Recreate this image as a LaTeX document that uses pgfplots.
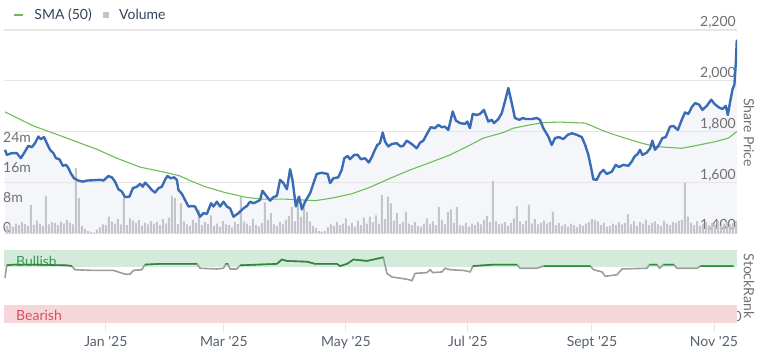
\documentclass[border=0pt]{standalone}
\usepackage{pgfplots}
\pgfplotsset{compat=1.18}
\usepackage{pgfplotstable}
\usepackage{fontspec}
\setmainfont{Lato}

\definecolor{priceblue}{HTML}{3A6CB4}
\definecolor{smagreen}{HTML}{6DBE5A}
\definecolor{volgray}{HTML}{C3C5CB}
\definecolor{areafill}{HTML}{F4F6FA}
\definecolor{gridgray}{HTML}{E6E6E6}
\definecolor{tickgray}{HTML}{707070}
\definecolor{xtickgray}{HTML}{56606E}
\definecolor{bullband}{HTML}{D4EADB}
\definecolor{bearband}{HTML}{F6D6D9}
\definecolor{rankgreen}{HTML}{2A8A3A}
\definecolor{rankgray}{HTML}{9C9C9C}
\definecolor{bulltext}{HTML}{3A9A4E}
\definecolor{beartext}{HTML}{D9505C}
\definecolor{legtext}{HTML}{34425A}

\pgfplotstableread{
day price
-50.4 1729
-49.5 1709
-47 1716
-44.5 1716
-42.5 1696
-40.9 1716
-38.7 1745
-37 1739
-35.4 1755
-33.7 1781
-32.5 1771
-30.9 1779
-29.5 1755
-27.9 1729
-26.2 1716
-24.9 1696
-23.2 1692
-21.5 1666
-19.9 1670
-18.7 1657
-17.5 1637
-15.9 1617
-13.7 1608
-11.5 1604
-9.5 1608
-2.9 1611
-1.2 1608
1.3 1626
3 1621
4.6 1604
6.3 1574
8 1565
9.6 1543
11.8 1545
13.5 1578
15.5 1584
17.1 1595
18.5 1584
19.6 1600
21.3 1587
23 1571
24.6 1561
26.3 1578
28 1584
29.6 1611
30.8 1626
32.5 1617
34.1 1621
35.5 1611
36.3 1571
38 1556
39.6 1532
41.3 1506
43 1508
44.6 1506
47.1 1466
48.8 1480
50.5 1477
52.6 1519
53.8 1506
55.5 1525
57.1 1506
58.8 1525
60.5 1506
62.1 1499
63.8 1466
66.3 1480
68.8 1499
70.5 1508
72.1 1525
73.8 1519
75.5 1525
77.1 1532
78.3 1568
80.5 1545
82.1 1529
83.8 1543
85.5 1548
87.1 1611
88.8 1598
90.5 1574
92.1 1653
93.3 1611
95 1506
96.6 1545
98 1495
99.6 1525
102.1 1558
103.8 1598
105.4 1634
107.9 1639
110.9 1634
112.1 1598
113.7 1617
116.2 1621
117.9 1650
119.2 1696
120.9 1705
122 1692
124.2 1709
125.9 1709
127.5 1692
129.5 1696
131.5 1679
133.2 1705
134.5 1729
135.7 1748
137 1755
138.4 1797
139.6 1761
141.2 1742
142.9 1752
145.4 1755
147.4 1742
148.7 1745
150.4 1765
152.9 1752
155.4 1735
157.1 1757
158.7 1765
160.7 1794
162.4 1818
164.5 1814
166.2 1827
167.9 1818
169.5 1820
171.2 1807
173.4 1880
175 1844
177 1834
179.5 1831
180.7 1840
182 1814
183.4 1870
185.4 1866
187 1870
189 1886
191.2 1840
192.9 1847
194 1834
196.2 1850
197.9 1873
199.5 1919
201.2 1972
202.9 1913
204.5 1854
206.7 1847
208.4 1854
210 1850
212.9 1850
215.4 1854
217 1847
218.7 1814
221.2 1781
222.9 1748
224.5 1775
226.5 1779
228.7 1771
230.9 1788
232.9 1794
235.4 1788
237.9 1779
239.6 1748
241.2 1709
242.6 1657
243.7 1613
245.4 1611
247 1637
248.7 1650
250.4 1634
252.9 1643
254.9 1670
256.5 1661
258.7 1670
261.2 1666
262.9 1683
264.2 1702
265.9 1713
267 1729
268.2 1709
270.4 1718
272.1 1735
273.2 1765
274.5 1729
276.2 1745
278.2 1775
279.9 1779
282 1820
283.7 1823
285.9 1807
287.9 1847
289.5 1876
291.2 1870
292.9 1897
294.6 1913
296.6 1906
298.2 1886
300.4 1902
302.6 1926
304.2 1910
306.2 1897
308.2 1889
309.9 1902
310.9 1866
312.1 1919
313.2 1965
314.2 1985
314.9 2070
315.4 2162
}\pricetable

\pgfplotstableread{
day sma
-50.4 1878
-36.2 1823
-19.5 1775
-4.5 1731
5.5 1696
17.1 1661
30.5 1639
37.1 1626
42.1 1608
49.6 1584
59.6 1561
69.6 1543
78 1535
89.6 1535
98 1532
104.6 1529
112.9 1539
122.9 1556
132.1 1582
142.1 1617
152.1 1650
162.1 1679
172.1 1709
182.1 1748
188.7 1775
198.7 1797
203.7 1814
212 1827
218.7 1836
227 1838
239.5 1834
242.9 1823
249.5 1801
257.9 1779
267.9 1755
274.5 1742
287.9 1735
294.6 1745
304.6 1761
311.2 1775
315.4 1801
}\smatable

\pgfplotstableread{
day vol
-49.5 2.0
-48 2.4
-46.5 1.8
-45 2.6
-43.5 2.2
-42 3.0
-40.5 2.5
-39 2.0
-37.5 7.6
-36 2.3
-34.5 3.4
-33 2.6
-31.5 2.0
-30 10.0
-28.5 2.4
-27 3.0
-25.5 2.8
-24 2.2
-22.5 3.1
-21 2.6
-19.5 3.6
-18 2.9
-16.5 2.4
-15 17.4
-13.5 9.4
-12 2.0
-10.5 1.2
-9 0.6
-7.5 0.4
-6 0.3
-4.5 1.0
-3 1.6
-1.5 2.4
0 2.2
1.5 4.5
3 3.2
4.5 2.6
6 3.8
7.5 2.4
9 9.4
10.5 2.2
12 4.0
13.5 3.4
15 2.8
16.5 3.6
18 2.1
19.5 2.9
21 2.4
22.5 3.3
24 2.6
25.5 3.0
27 2.2
28.5 3.8
30 2.7
31.5 4.2
33 10.0
34.5 9.4
36 2.5
37.5 8.0
39 3.2
40.5 2.4
42 2.0
43.5 3.6
45 2.8
46.5 6.3
48 2.2
49.5 3.0
51 2.5
52.5 4.8
54 2.0
55.5 2.6
57 1.8
58.5 3.3
60 2.4
61.5 2.2
63 1.6
64.5 3.0
66 2.5
67.5 9.8
69 3.2
70.5 2.6
72 2.0
73.5 3.8
75 2.2
76.5 1.8
78 2.8
79.5 8.3
81 3.6
82.5 5.4
84 2.4
85.5 2.0
87 3.0
88.5 2.4
90 3.6
91.5 4.6
93 7.1
94.5 3.2
96 9.8
97.5 4.4
99 7.0
100.5 5.8
102 3.2
103.5 2.0
105 1.4
106.5 0.6
108 0.5
109.5 0.7
111 1.6
112.5 2.4
114 2.0
115.5 3.0
117 2.2
118.5 2.6
120 4.0
121.5 2.0
123 2.8
124.5 1.8
126 3.4
127.5 2.2
129 4.2
130.5 2.6
132 4.5
133.5 3.0
135 4.8
136.5 2.6
138 10.3
139.5 3.8
141 9.8
142.5 8.0
144 3.4
145.5 5.5
147 2.4
148.5 3.0
150 5.8
151.5 2.6
153 2.2
154.5 3.0
156 2.0
157.5 1.8
159 2.6
160.5 4.0
162 2.4
163.5 3.2
165 2.2
166.5 7.1
168 3.6
169.5 2.4
171 5.7
172.5 6.4
174 2.8
175.5 7.1
177 2.2
178.5 2.0
180 2.8
181.5 1.8
183 2.6
184.5 2.2
186 3.0
187.5 2.4
189 3.6
190.5 4.7
192 3.0
193.5 14.0
195 3.2
196.5 2.4
198 2.6
199.5 3.0
201 2.0
202.5 2.8
204 4.0
205.5 7.3
207 3.2
208.5 2.4
210 3.4
211.5 7.7
213 2.6
214.5 3.8
216 2.4
217.5 2.8
219 3.4
220.5 2.6
222 3.0
223.5 5.8
225 2.2
226.5 2.8
228 2.0
229.5 2.4
231 1.8
232.5 2.6
234 2.2
235.5 1.6
237 2.4
238.5 2.0
240 2.6
241.5 3.0
243 3.8
244.5 3.6
246 3.2
247.5 2.2
249 2.8
250.5 1.8
252 2.0
253.5 2.6
255 2.2
256.5 3.0
258 2.4
259.5 2.8
261 5.1
262.5 2.4
264 3.2
265.5 2.0
267 3.0
268.5 2.6
270 3.6
271.5 2.2
273 2.8
274.5 3.2
276 2.4
277.5 2.0
279 3.4
280.5 2.6
282 2.2
283.5 3.0
285 2.8
286.5 3.4
288 3.6
289.5 13.5
291 4.5
292.5 2.8
294 2.2
295.5 3.2
297 2.0
298.5 2.6
300 3.0
301.5 2.2
303 2.8
304.5 2.4
306 3.2
307.5 2.0
309 2.6
310.5 3.0
312 2.4
313.5 2.8
315 3.4
}\voltable

\pgfplotstableread{
day rank
-50.4 62
-49.5 79
-46.2 80
-36.2 80
-19.5 79
-17 78
-15.4 73
-6.2 72
3.8 72
9.6 67
12.1 67
13.8 72
18 73
19.6 80
27.1 81
45.5 81
47.1 75
55.5 74
58.8 75
60 81
61 81
62.1 74
65.5 74
67.1 79
85.5 81
88 87
90.5 85
100.5 84
104.6 81
115.5 81
117.1 78
120.5 81
123.8 87
130.5 85
137.1 89
138.7 90
140.5 68
143 63
150.5 60
153 58
154.6 68
160.5 69
162.1 73
163.5 69
168 70
169.6 75
172.1 73
178.8 72
182.1 70
183.5 78
193.8 80
205.5 80
207.1 75
215.5 75
218.8 78
242.2 78
243.8 73
248 70
249.6 64
255.5 66
258 74
270.5 75
271.8 80
275.5 80
276.8 75
278.8 80
283.8 80
285.5 75
295.5 75
297.2 78
313.8 78
}\ranktable

\newcommand{\chartfont}{\fontsize{14}{16}\selectfont}

\pgfplotsset{
  base/.style={scale only axis, width=733pt, height=203.5pt,
    xmin=-50.9, xmax=315.5, anchor=south west, at={(4pt,129.5pt)},
    axis line style={draw=none}, xtick=\empty,
    /pgf/number format/assume math mode=true,
    tick label style={font=\chartfont},
    major tick length=0pt},
}

\begin{document}
\begin{tikzpicture}[x=1pt,y=1pt]
\path[use as bounding box] (0,0) rectangle (762,363);

% price area + grid + right labels
\begin{axis}[base, ymin=1400, ymax=2200,
  ytick={1400,1600,1800,2000,2200},
  yticklabels={{1,400},{1,600},{1,800},{2,000},{2,200}},
  ymajorgrids, grid style={gridgray, line width=1.2pt},
  ytick pos=right, yticklabel pos=right, axis on top,
  yticklabel style={anchor=south east, text=tickgray, inner sep=1pt, yshift=0.5pt}]
\addplot[draw=none, fill=areafill] table[x=day, y=price] {\pricetable} \closedcycle;
\end{axis}

% volume
\begin{axis}[base, ymin=0, ymax=54.27,
  ytick={0,8,16,24}, yticklabels={0,8m,16m,24m},
  ytick pos=left, yticklabel pos=left,
  yticklabel style={anchor=south west, text=tickgray, inner sep=1pt, xshift=-2pt, yshift=0pt}]
\addplot[ybar, bar width=2pt, fill=volgray, draw=none] table[x=day, y=vol] {\voltable};
\end{axis}

% price lines
\begin{axis}[base, ymin=1400, ymax=2200, ytick=\empty,
  legend style={at={(0,1)}, anchor=west, xshift=6pt, yshift=15pt, draw=none, fill=none,
    font=\chartfont, text=legtext, legend columns=-1,
    /tikz/every odd column/.append style={column sep=9pt},
    /tikz/every even column/.append style={column sep=9pt}}]
\addplot[smagreen, line width=1.1pt, forget plot] table[x=day, y=sma] {\smatable};
\addplot[priceblue, line width=2.4pt, line join=round, forget plot] table[x=day, y=price] {\pricetable};
\addlegendimage{legend image code/.code={\draw[smagreen, line width=1.2pt] (0pt,0pt) -- (9pt,0pt);}}
\addlegendentry{SMA (50)}
\addlegendimage{legend image code/.code={\fill[volgray] (1pt,-2.5pt) rectangle (6pt,2.5pt);}}
\addlegendentry{Volume}
\end{axis}

% StockRank panel
\begin{axis}[scale only axis, width=733pt, height=73pt, xmin=-50.9, xmax=315.5,
  anchor=south west, at={(4pt,40pt)}, ymin=0, ymax=100,
  axis line style={draw=none},
  /pgf/number format/assume math mode=true,
  tick label style={font=\chartfont},
  xtick={0,59,120,181,243,304},
  xticklabels={Jan \textquotesingle25, Mar \textquotesingle25, May \textquotesingle25, Jul \textquotesingle25, Sept \textquotesingle25, Nov \textquotesingle25},
  xtick pos=bottom, tick align=outside, major tick length=9pt,
  xtick style={gridgray, line width=1pt},
  xticklabel style={text=xtickgray, yshift=-1pt},
  ytick={0}, yticklabels={0}, ytick pos=right, yticklabel pos=right,
  ytick style={draw=none},
  yticklabel style={anchor=south east, text=tickgray, inner sep=1pt, xshift=-3pt, yshift=0pt}]
\fill[bullband] (-50.9,76.7) rectangle (315.5,100);
\fill[bearband] (-50.9,0) rectangle (315.5,24.7);
\node[anchor=west, inner sep=0pt, text=bulltext, font=\chartfont] at (-44.9,85) {Bullish};
\node[anchor=west, inner sep=0pt, text=beartext, font=\chartfont] at (-44.9,10) {Bearish};
\addplot[rankgray, line width=1.6pt] table[x=day, y=rank] {\ranktable};
\addplot[rankgreen, line width=1.6pt, restrict y to domain=77:100, unbounded coords=jump] table[x=day, y=rank] {\ranktable};
\end{axis}

\node[rotate=-90, text=tickgray, font=\chartfont] at (749,230.5) {Share Price};
\node[rotate=-90, text=tickgray, font=\chartfont] at (749,77) {StockRank};
\end{tikzpicture}
\end{document}
